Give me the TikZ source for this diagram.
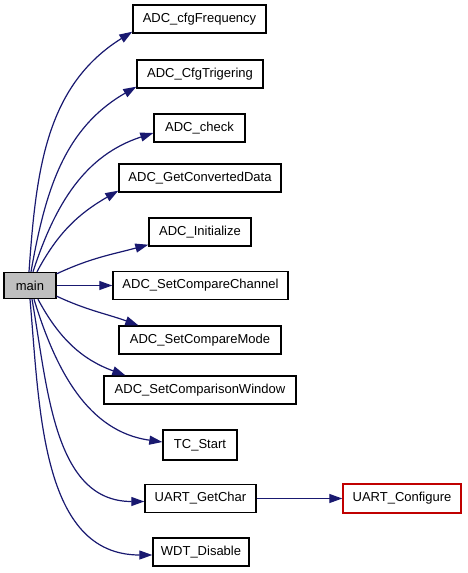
\documentclass[tikz,border=0pt]{standalone}
\usepackage{fontspec}
\setmainfont{Liberation Sans}
\usetikzlibrary{arrows.meta}
\definecolor{edgeblue}{RGB}{25,25,112}
\definecolor{rootgray}{RGB}{191,191,191}
\definecolor{extred}{RGB}{192,0,0}
\begin{document}
\begin{tikzpicture}[x=1pt,y=-1pt,
  fn/.style={draw=black,line width=1.4pt,fill=white,minimum height=28pt,inner sep=0pt,
    font=\fontsize{13}{15}\selectfont},
  call/.style={draw=edgeblue,line width=1.2pt,-{Triangle[length=13pt,width=9pt]}},
]
\useasboundingbox (0,0) rectangle (467,573);
\node[fn,fill=rootgray,minimum width=52pt,minimum height=26pt] (main) at (30,285.5) {main};
\node[fn,minimum width=133pt] (f1) at (199.5,19) {ADC\_cfgFrequency};
\node[fn,minimum width=126pt] (f2) at (200,74) {ADC\_CfgTrigering};
\node[fn,minimum width=91pt] (f3) at (199.5,128) {ADC\_check};
\node[fn,minimum width=162pt] (f4) at (200,178) {ADC\_GetConvertedData};
\node[fn,minimum width=102pt] (f5) at (200,232) {ADC\_Initialize};
\node[fn,minimum width=175pt] (f6) at (200.5,285.5) {ADC\_SetCompareChannel};
\node[fn,minimum width=162pt] (f7) at (200,340) {ADC\_SetCompareMode};
\node[fn,minimum width=192pt] (f8) at (200,390) {ADC\_SetComparisonWindow};
\node[fn,minimum width=74pt,minimum height=30pt] (f9) at (200,445) {TC\_Start};
\node[fn,minimum width=111pt] (f10) at (200.5,498.5) {UART\_GetChar};
\node[fn,draw=extred,minimum width=118pt,minimum height=29pt] (f11) at (402,498.5) {UART\_Configure};
\node[fn,minimum width=96pt] (f12) at (201,552) {WDT\_Disable};

\draw[call] ([xshift=-1pt]main.north) to[out=86,in=212] ([yshift=2pt]f1.south west);
\draw[call] ([xshift=1pt]main.north) to[out=80,in=210] ([yshift=2pt]f2.south west);
\draw[call] ([xshift=3pt]main.north) to[out=72,in=198] ([yshift=-5pt]f3.west);
\draw[call] ([xshift=7pt]main.north) to[out=62,in=210] ([yshift=2pt]f4.south west);
\draw[call] ([yshift=-2pt]main.north east) to[out=25,in=195] ([yshift=2pt]f5.south west);
\draw[call] (main) -- (f6);
\draw[call] ([yshift=3pt]main.south east) to[out=-25,in=160] ([xshift=20pt]f7.north west);
\draw[call] ([xshift=8pt]main.south) to[out=-62,in=160] ([xshift=22pt]f8.north west);
\draw[call] ([xshift=4pt]main.south) to[out=-73,in=172] ([yshift=3pt]f9.west);
\draw[call] ([xshift=2pt]main.south) to[out=-80,in=180] ([yshift=-3pt]f10.west);
\draw[call] (main.south) to[out=-85,in=180] ([yshift=-3pt]f12.west);
\draw[call] (f10) -- (f11);
\end{tikzpicture}
\end{document}
